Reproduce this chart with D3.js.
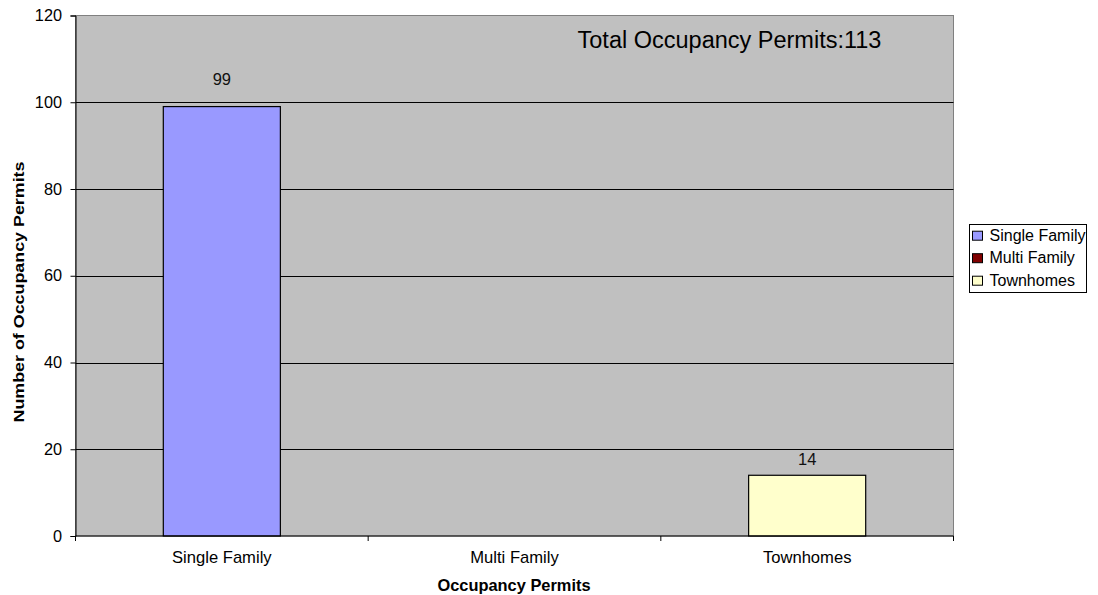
<!DOCTYPE html>
<html><head><meta charset="utf-8">
<script src="https://cdn.jsdelivr.net/npm/d3@7/dist/d3.min.js"></script>
<style>body{margin:0;background:#fff;} text{font-family:Arial,"Liberation Sans",sans-serif;}</style>
</head><body>
<svg id="c" width="1098" height="595"></svg>
<script>
const categories = ["Single Family", "Multi Family", "Townhomes"];
const values = [99, 0, 14];
const colors = ["#9999FF", "#800000", "#FFFFCC"];
const yTicks = [0, 20, 40, 60, 80, 100, 120];
const totalLabel = "Total Occupancy Permits:113";

const svg = d3.select("#c");
const L = 75.5, R = 953.5, T = 15.5, B = 536;
const x = d3.scaleBand().domain(categories).range([L, R]).padding(0);
const y = d3.scaleLinear().domain([0, 120]).range([B, T]);

svg.append("rect").attr("x", L).attr("y", T).attr("width", R - L).attr("height", B - T)
  .attr("fill", "#C0C0C0").attr("stroke", "#808080").attr("stroke-width", 1);

// gridlines
svg.append("g").selectAll("line").data(yTicks.filter(d => d > 0 && d < 120)).join("line")
  .attr("x1", L).attr("x2", R).attr("y1", d => Math.round(y(d)) + 0.5).attr("y2", d => Math.round(y(d)) + 0.5)
  .attr("stroke", "#000").attr("stroke-width", 1);

// bars
const bw = x.bandwidth() * 0.4;
const rows = categories.map((c, i) => ({c, v: values[i], col: colors[i]}));
svg.append("g").selectAll("rect").data(rows.filter(d => d.v > 0)).join("rect")
  .attr("x", d => x(d.c) + (x.bandwidth() - bw) / 2)
  .attr("y", d => y(d.v)).attr("width", bw).attr("height", d => B - y(d.v))
  .attr("fill", d => d.col).attr("stroke", "#000").attr("stroke-width", 1.2);

// value labels
svg.append("g").selectAll("text").data(rows.filter(d => d.v > 0)).join("text")
  .attr("x", d => x(d.c) + x.bandwidth() / 2)
  .attr("y", d => y(d.v) - (d.v > 50 ? 21.5 : 10))
  .attr("text-anchor", "middle").attr("font-size", 16.5).attr("fill", "#111").text(d => d.v);

// y axis
const ya = d3.axisLeft(y).tickValues(yTicks).tickSize(5).tickPadding(8.5);
const gy = svg.append("g").attr("transform", `translate(${L},0)`).call(ya);
gy.select(".domain").attr("stroke", "#000");
gy.selectAll(".tick line").attr("stroke", "#000");
gy.selectAll("text").attr("font-size", 16.3).attr("fill", "#000").attr("font-family", "Arial, 'Liberation Sans', sans-serif");

// x axis
const gx = svg.append("g").attr("transform", `translate(0,${B})`);
gx.append("line").attr("x1", L).attr("x2", R).attr("stroke", "#000");
const bounds = [L].concat(categories.map(c => x(c) + x.bandwidth()));
gx.selectAll("line.t").data(bounds).join("line").attr("class", "t")
  .attr("x1", d => d).attr("x2", d => d).attr("y1", 0).attr("y2", 5).attr("stroke", "#000");
gx.selectAll("text").data(categories).join("text")
  .attr("x", d => x(d) + x.bandwidth() / 2).attr("y", 27).attr("text-anchor", "middle")
  .attr("font-size", 16.6).text(d => d);

// axis titles
svg.append("text").attr("x", 514).attr("y", 590.5).attr("text-anchor", "middle")
  .attr("font-size", 16.4).attr("font-weight", "bold").text("Occupancy Permits");
svg.append("text").attr("transform", "translate(23.5,292) rotate(-90)").attr("text-anchor", "middle")
  .attr("font-size", 15).attr("font-weight", "bold")
  .attr("textLength", 261).attr("lengthAdjust", "spacingAndGlyphs").text("Number of Occupancy Permits");

// total label
svg.append("text").attr("x", 729.5).attr("y", 48).attr("text-anchor", "middle")
  .attr("font-size", 23.5).text(totalLabel);

// legend
const lg = svg.append("g");
lg.append("rect").attr("x", 969.5).attr("y", 224.5).attr("width", 117).attr("height", 68)
  .attr("fill", "#fff").attr("stroke", "#000");
categories.forEach((c, i) => {
  const base = 240.7 + i * 22.5;
  lg.append("rect").attr("x", 972.5).attr("y", base - 9.5).attr("width", 10).attr("height", 9)
    .attr("fill", colors[i]).attr("stroke", "#000");
  lg.append("text").attr("x", 989.5).attr("y", base).attr("font-size", 16).text(c);
});
</script>
</body></html>
